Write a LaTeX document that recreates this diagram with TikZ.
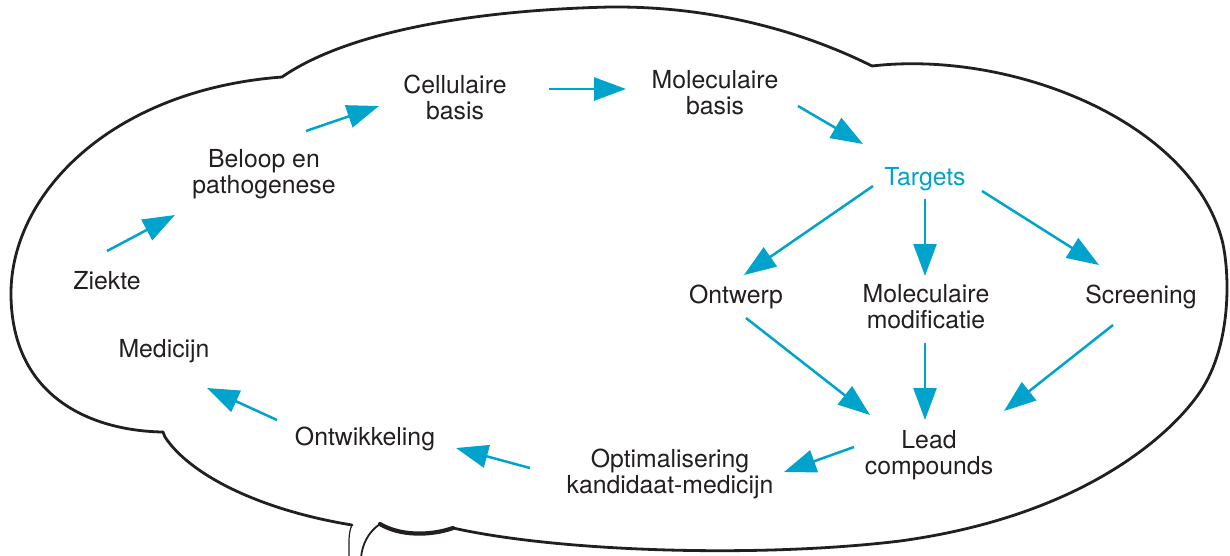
\documentclass[tikz,border=0pt]{standalone}
\usepackage{fontspec}
\setmainfont{TeX Gyre Heros}
\usetikzlibrary{arrows.meta}
\definecolor{ink}{HTML}{231F20}
\definecolor{cyanb}{RGB}{0,163,204}
\begin{document}
\begin{tikzpicture}[x=1pt,y=-1pt,
  lbl/.style={font=\fontsize{24.8}{25.5}\selectfont, text=ink, align=center, anchor=base, inner sep=0pt},
  arr/.style={draw=cyanb, line width=2.5pt, -{Triangle[length=32pt,width=23pt]}},
  outline/.style={draw=ink, line width=2.8pt, line cap=round, line join=round}]
\useasboundingbox (0,0) rectangle (1230,555);
% cloud outline
\draw[outline] (163,432) .. controls (95,431) and (12,400) .. (11,295)
  .. controls (10,195) and (110,90) .. (282,77)
  .. controls (350,30) and (480,10) .. (610,7)
  .. controls (720,6) and (810,35) .. (872,66);
\draw[outline] (872,66) .. controls (1010,50) and (1190,120) .. (1222,240)
  .. controls (1230,272) and (1232,345) .. (1200,392)
  .. controls (1175,429) and (1090,515) .. (900,541)
  .. controls (760,558) and (560,552) .. (453,528);
\draw[draw=ink, line width=4.2pt, line cap=round] (453,528) .. controls (430,536) and (400,536) .. (380,524);
\draw[draw=ink, line width=1.8pt] (380,524) .. controls (368,532) and (362,545) .. (361,558);
\draw[draw=ink, line width=1.2pt] (352,525) .. controls (348,533) and (349,545) .. (349,558);
\draw[outline] (352,525) .. controls (260,510) and (190,475) .. (165,437) -- (163,432);
% labels
\node[lbl] (ziekte) at (107,289) {Ziekte};
\node[lbl] (beloop) at (264,193) {Beloop en\\pathogenese};
\node[lbl] (cell) at (455,119) {Cellulaire\\basis};
\node[lbl] (molb) at (715,114) {Moleculaire\\basis};
\node[lbl, text=cyanb] (targets) at (925,185) {Targets};
\node[lbl] (ontwerp) at (736,303) {Ontwerp};
\node[lbl] (molmod) at (926,328) {Moleculaire\\modificatie};
\node[lbl] (screening) at (1141,303) {Screening};
\node[lbl] (lead) at (929,474) {Lead\\compounds};
\node[lbl] (optim) at (670,493) {Optimalisering\\kandidaat-medicijn};
\node[lbl] (ontw) at (365,445) {Ontwikkeling};
\node[lbl] (medicijn) at (164,357) {Medicijn};
% arrows
\draw[arr] ([shift={(0,-38)}]ziekte.base) -- ([shift={(-89,22)}]beloop.base);
\draw[arr] ([shift={(42,-62)}]beloop.base) -- ([shift={(-76,-13)}]cell.base);
\draw[arr] ([shift={(94,-30)}]cell.base) -- ([shift={(-89,-25)}]molb.base);
\draw[arr] ([shift={(83,-8)}]molb.base) -- ([shift={(-62,-41)}]targets.base);
\draw[arr] ([shift={(-52,1)}]targets.base) -- ([shift={(8,-28)}]ontwerp.base);
\draw[arr] ([shift={(0,14)}]targets.base) -- ([shift={(-1,-52)}]molmod.base);
\draw[arr] ([shift={(57,6)}]targets.base) -- ([shift={(-42,-38)}]screening.base);
\draw[arr] ([shift={(10,15)}]ontwerp.base) -- ([shift={(-59,-59)}]lead.base);
\draw[arr] ([shift={(-1,15)}]molmod.base) -- ([shift={(-4,-54)}]lead.base);
\draw[arr] ([shift={(-28,22)}]screening.base) -- ([shift={(75,-63)}]lead.base);
\draw[arr] ([shift={(-75,-27)}]lead.base) -- ([shift={(114,-21)}]optim.base);
\draw[arr] ([shift={(-140,-25)}]optim.base) -- ([shift={(91,3)}]ontw.base);
\draw[arr] ([shift={(-88,-25)}]ontw.base) -- ([shift={(43,31)}]medicijn.base);
\end{tikzpicture}
\end{document}
